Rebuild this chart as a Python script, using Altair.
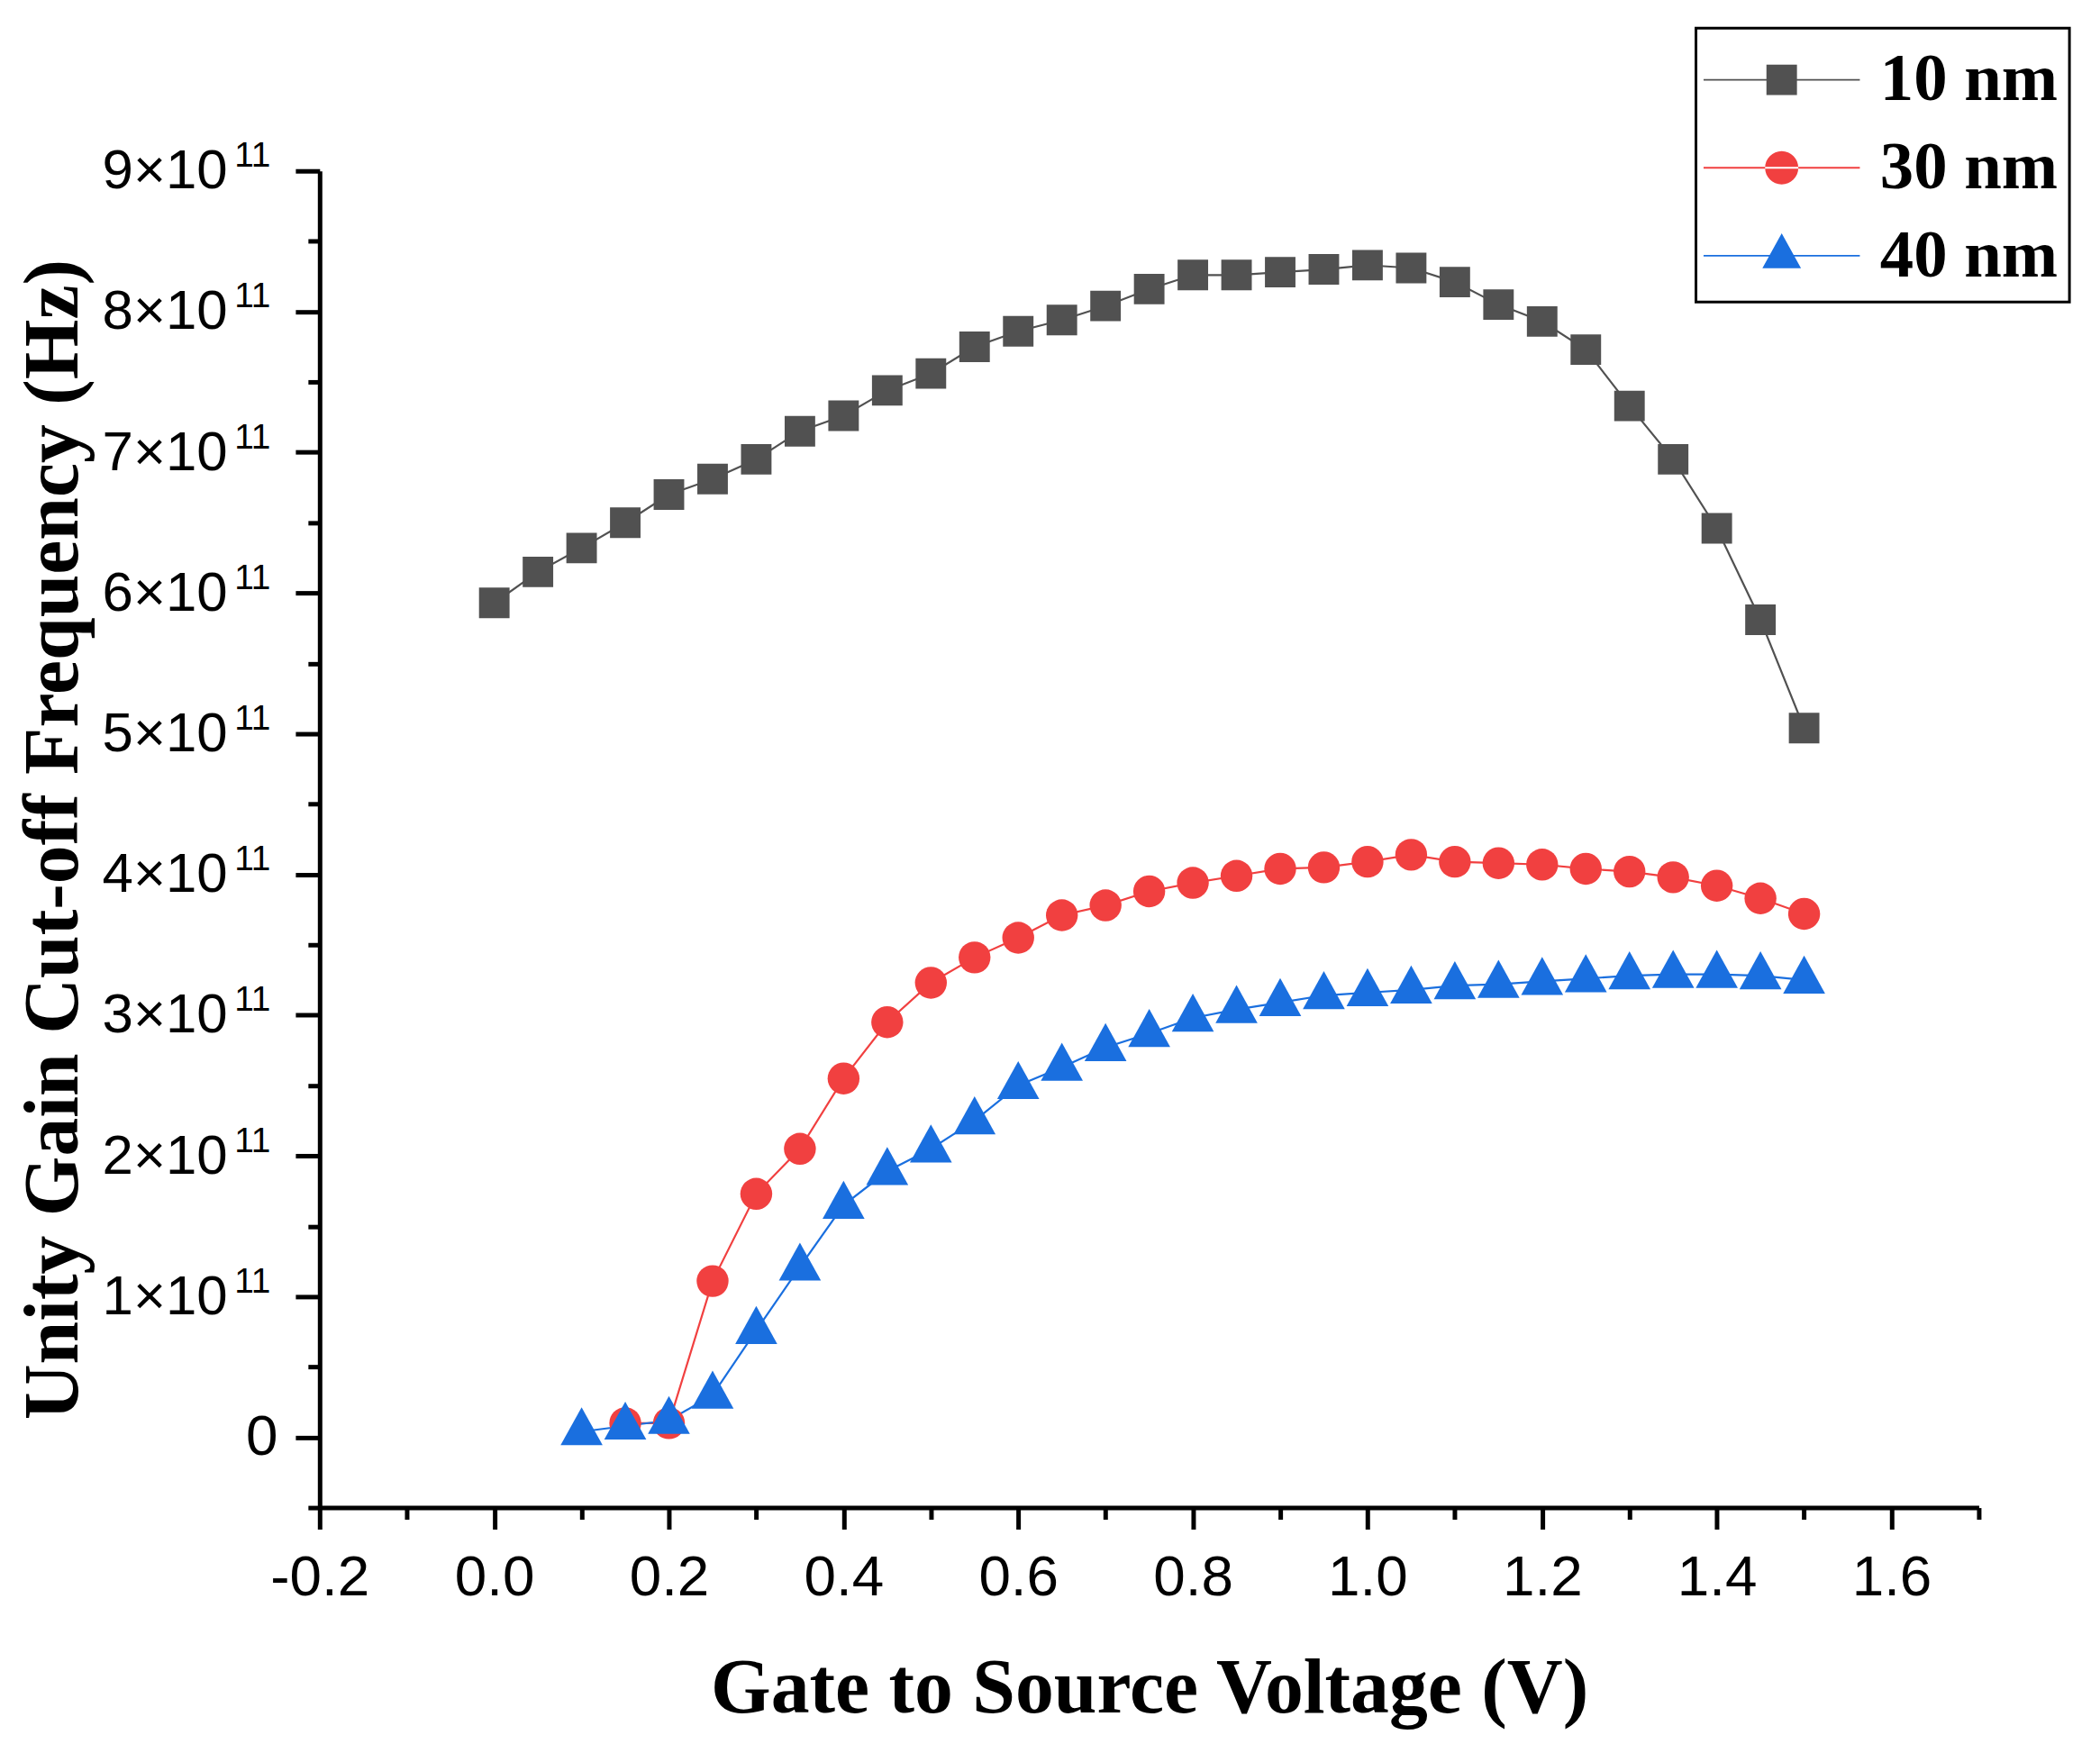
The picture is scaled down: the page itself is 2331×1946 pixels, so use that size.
import altair as alt
import pandas as pd

# gate-source voltage (V) for each channel length
vgs_10nm = [0.00, 0.05, 0.10, 0.15, 0.20, 0.25, 0.30, 0.35, 0.40, 0.45, 0.50,
            0.55, 0.60, 0.65, 0.70, 0.75, 0.80, 0.85, 0.90, 0.95, 1.00, 1.05,
            1.10, 1.15, 1.20, 1.25, 1.30, 1.35, 1.40, 1.45, 1.50]
vgs_30nm = [0.15, 0.20, 0.25, 0.30, 0.35, 0.40, 0.45, 0.50, 0.55, 0.60, 0.65,
            0.70, 0.75, 0.80, 0.85, 0.90, 0.95, 1.00, 1.05, 1.10, 1.15, 1.20,
            1.25, 1.30, 1.35, 1.40, 1.45, 1.50]
vgs_40nm = [0.10, 0.15, 0.20, 0.25, 0.30, 0.35, 0.40, 0.45, 0.50, 0.55, 0.60,
            0.65, 0.70, 0.75, 0.80, 0.85, 0.90, 0.95, 1.00, 1.05, 1.10, 1.15,
            1.20, 1.25, 1.30, 1.35, 1.40, 1.45, 1.50]

# unity gain cut-off frequency, in units of 1e11 Hz
ft_10nm = [5.93, 6.15, 6.32, 6.50, 6.70, 6.81, 6.95, 7.15, 7.26, 7.44, 7.56,
           7.75, 7.86, 7.94, 8.04, 8.16, 8.26, 8.26, 8.28, 8.30, 8.33, 8.31,
           8.21, 8.05, 7.93, 7.73, 7.33, 6.95, 6.46, 5.81, 5.04]
ft_30nm = [0.10, 0.10, 1.11, 1.73, 2.05, 2.55, 2.95, 3.23, 3.41, 3.55, 3.71,
           3.78, 3.88, 3.94, 3.99, 4.04, 4.05, 4.09, 4.14, 4.09, 4.08, 4.07,
           4.04, 4.02, 3.98, 3.92, 3.83, 3.72]
ft_40nm = [0.04, 0.08, 0.12, 0.30, 0.76, 1.21, 1.65, 1.89, 2.05, 2.25, 2.50,
           2.63, 2.77, 2.87, 2.98, 3.04, 3.09, 3.14, 3.16, 3.18, 3.21, 3.22,
           3.24, 3.26, 3.28, 3.29, 3.29, 3.28, 3.25]

series = ["10 nm", "30 nm", "40 nm"]
colors = ["#515151", "#F14040", "#1A6FDF"]

x_major = [-0.2, 0.0, 0.2, 0.4, 0.6, 0.8, 1.0, 1.2, 1.4, 1.6]
x_minor = [-0.1, 0.1, 0.3, 0.5, 0.7, 0.9, 1.1, 1.3, 1.5, 1.7]
y_major = [i * 1e11 for i in range(10)]
y_minor = [(i + 0.5) * 1e11 for i in range(-1, 9)]

rows = []
for name, xs, ys in zip(series, [vgs_10nm, vgs_30nm, vgs_40nm],
                        [ft_10nm, ft_30nm, ft_40nm]):
    for v, f in zip(xs, ys):
        rows.append({"vgs": v, "ft": f * 1e11, "series": name})
df = pd.DataFrame(rows)

# plot marker shapes (triangle drawn with its centroid on the point)
tri = "M0,-1.47L1.265,0.82L-1.265,0.82Z"
# legend symbols: a line segment through the marker, as in the original
line_seg = "M-5.12,-0.055H5.12V0.055H-5.12Z"
leg_shapes = [
    line_seg + " M-1,-1H1V1H-1Z",
    line_seg + " M-1.09,0A1.09,1.09 0 1,0 1.09,0A1.09,1.09 0 1,0 -1.09,0Z",
    line_seg + " " + tri,
]

color_scale = alt.Scale(domain=series, range=colors)
x_scale = alt.Scale(domain=[-0.2, 1.7], nice=False, zero=False)
y_scale = alt.Scale(domain=[-0.5e11, 9e11], nice=False, zero=False)

tick_style = dict(tickColor="black", domainColor="black", grid=False)
sans = dict(labelFont="Liberation Sans", labelColor="black",
            labelFlush=False, labelOverlap=False, labelLimit=0)

x_main = alt.X("vgs:Q", scale=x_scale, axis=alt.Axis(
    values=x_major, orient="bottom", tickSize=24, tickWidth=5, domainWidth=5,
    labelExpr="replace(format(datum.value, '.1f'), '\u2212', '-')",
    labelFontSize=64, labelPadding=22,
    title="Gate to Source Voltage (V)", titleFont="Liberation Serif",
    titleFontWeight="bold", titleFontSize=86, titleColor="black",
    titlePadding=50, **sans, **tick_style))
# mantissa part of the y labels: "9×10"
y_main = alt.Y("ft:Q", scale=y_scale, axis=alt.Axis(
    values=y_major, orient="left", tickSize=27, tickWidth=5, domainWidth=5,
    labelExpr="datum.value == 0 ? '' : format(datum.value / 1e11, 'd') + '×10'",
    labelFontSize=62, labelPadding=76,
    title="Unity Gain Cut-off Frequency (Hz)", titleFont="Liberation Serif",
    titleFontWeight="bold", titleFontSize=86, titleColor="black",
    titleAngle=270, titleAlign="center", titleBaseline="alphabetic",
    titleX=-270, titleY=744.5, **sans, **tick_style))

x_min = alt.X("vgs:Q", scale=x_scale, axis=alt.Axis(
    values=x_minor, orient="bottom", tickSize=13, tickWidth=5, labels=False,
    domain=False, title=None, **tick_style))
y_min = alt.Y("ft:Q", scale=y_scale, axis=alt.Axis(
    values=y_minor, orient="left", tickSize=13, tickWidth=5, labels=False,
    domain=False, title=None, **tick_style))
# exponent part of the y labels, raised and smaller
y_exp = alt.Y("ft:Q", scale=y_scale, axis=alt.Axis(
    values=y_major[1:], orient="left", tickSize=27, tickOpacity=0,
    domain=False, title=None, labelExpr="'11'", labelFontSize=39,
    labelPadding=28, labelOffset=-17, **sans, **tick_style))
y_zero = alt.Y("ft:Q", scale=y_scale, axis=alt.Axis(
    values=[0], orient="left", tickSize=27, tickOpacity=0, domain=False,
    title=None, labelFontSize=64, labelPadding=20, **sans, **tick_style))

base = alt.Chart(df)

lines = base.mark_line(strokeWidth=2.2).encode(
    x=x_main,
    y=y_main,
    color=alt.Color("series:N", scale=color_scale, legend=None),
    detail="series:N",
)

points = base.mark_point(filled=True, opacity=1, strokeWidth=0).encode(
    x=x_min,
    y=y_min,
    color=alt.Color("series:N", scale=color_scale, legend=None),
    shape=alt.Shape("series:N", scale=alt.Scale(
        domain=series, range=["square", "circle", tri]), legend=None),
    size=alt.Size("series:N", scale=alt.Scale(
        domain=series, range=[1156, 1369, 1156]), legend=None),
)

exp_axis = base.mark_point().encode(y=y_exp).transform_filter("false")
zero_axis = base.mark_point().encode(y=y_zero).transform_filter("false")

legend_layer = base.mark_point(filled=True, opacity=1).encode(
    fill=alt.Fill("series:N", scale=color_scale, title=" "),
    shape=alt.Shape("series:N", scale=alt.Scale(domain=series, range=leg_shapes),
                    title=" "),
).transform_filter("false")

chart = alt.layer(lines, points, exp_axis, zero_axis, legend_layer).resolve_scale(
    shape="independent", fill="independent"
).resolve_legend(
    shape="independent", fill="independent"
).resolve_axis(
    x="independent", y="independent"
).properties(
    width=1848,
    height=1489,
    autosize=alt.AutoSizeParams(type="none"),
    padding={"left": 348, "top": 179, "right": 127, "bottom": 270},
).configure_view(
    stroke=None
).configure_legend(
    orient="none",
    legendX=1533,
    legendY=-159,
    strokeColor="black",
    strokeWidth=3,
    padding=13,
    titleFontSize=4,
    titlePadding=3,
    symbolSize=1156,
    symbolStrokeWidth=0,
    symbolOffset=45,
    labelOffset=72,
    labelLimit=0,
    labelFont="Liberation Serif",
    labelFontWeight="bold",
    labelFontSize=75,
    labelColor="black",
    rowPadding=22,
)

chart.save("out.html", embed_options={"renderer": "svg", "actions": False})
